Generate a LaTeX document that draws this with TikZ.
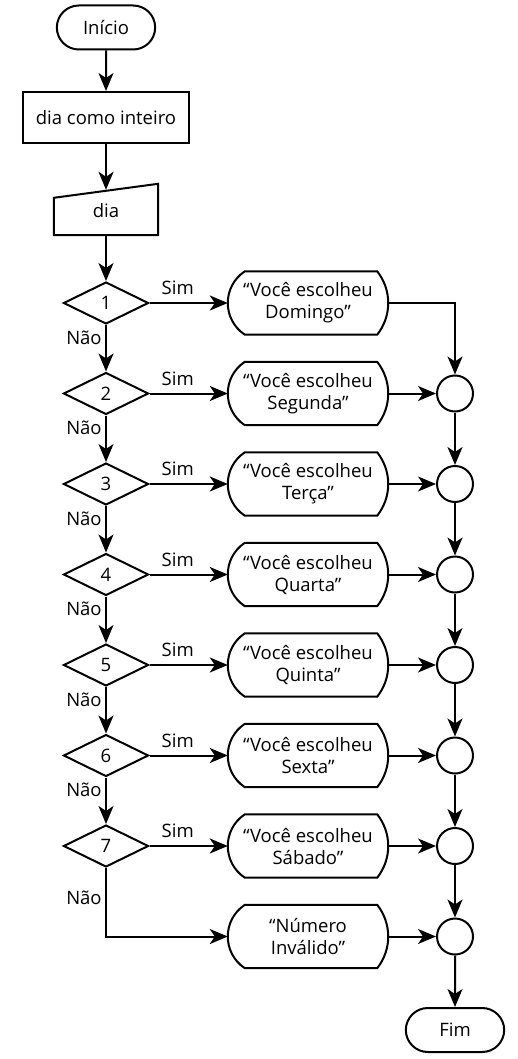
\documentclass[tikz,border=0pt]{standalone}
\usepackage{fontspec}
\setmainfont{Open Sans}
\usetikzlibrary{calc,shapes.geometric,shapes.misc,arrows.meta}

\begin{document}
\begin{tikzpicture}[x=1pt,y=-1pt,
    every node/.style={font=\fontsize{18.5}{22}\selectfont},
    linha/.style={draw,line width=2pt},
    seta/.style={linha,-{Stealth[length=18pt,width=15pt,inset=5pt]}},
    terminal/.style={draw,line width=2pt,rounded rectangle,
      minimum width=105pt,minimum height=44pt},
    decisao/.style={draw,line width=2pt,diamond,inner sep=0pt,
      minimum width=85pt,minimum height=42pt},
    tela/.style={align=center,inner sep=0pt,minimum width=160pt,minimum height=63pt},
    juncao/.style={draw,line width=2pt,circle,inner sep=0pt,minimum size=36pt}]
  \useasboundingbox (0,0) rectangle (517,1059);

  \node[terminal] (inicio) at (106,27.5) {Início};
  \node[draw,line width=2pt,minimum width=166pt,minimum height=51pt] (ret) at (106,117.5) {dia como inteiro};
  \node[minimum width=104pt,minimum height=48pt,inner sep=0pt] (ent) at (106,211) {dia};
  \draw[linha] (ent.south west) -- (ent.south east) -- ([yshift=3pt]ent.north east)
    -- ([yshift=-11pt]ent.north west) -- cycle;

  \draw[seta] (inicio) -- (ret);
  \draw[seta] (ret) -- ($(ent.north)+(0,3)$);

  % uma linha por dia
  \foreach \i/\dia in {1/Domingo,2/Segunda,3/Terça,4/Quarta,5/Quinta,6/Sexta,7/Sábado}{
    \pgfmathsetmacro\y{303+90.5*(\i-1)}
    \node[decisao] (d\i) at (106,\y) {\i};
    \node[tela] (o\i) at (308,\y) {“Você escolheu\\\dia”};
    \draw[seta] (d\i) -- node[above=7pt,pos=0.36,inner sep=0pt] {Sim} (o\i);
  }
  \node[tela] (o8) at (308,936.5) {“Número\\Inválido”};
  \foreach \i in {2,...,8}{
    \pgfmathsetmacro\y{303+90.5*(\i-1)}
    \node[juncao] (c\i) at (455,\y) {};
  }
  \node[terminal] (fim) at (455,1030) {Fim};

  % contorno das telas
  \foreach \t in {o1,o2,o3,o4,o5,o6,o7,o8}
    \draw[linha] ([xshift=17pt]\t.north west) -- ([xshift=-11pt]\t.north east)
      .. controls ([xshift=3.7pt,yshift=13pt]\t.east) and ([xshift=3.7pt,yshift=-13pt]\t.east)
      .. ([xshift=-11pt]\t.south east)
      -- ([xshift=17pt]\t.south west)
      .. controls ([xshift=-5.7pt,yshift=-16.5pt]\t.west) and ([xshift=-5.7pt,yshift=16.5pt]\t.west)
      .. cycle;

  \draw[seta] (ent) -- (d1);
  \foreach \i/\j in {1/2,2/3,3/4,4/5,5/6,6/7}
    \draw[seta] (d\i) -- node[left,pos=0.27] {Não} (d\j);
  \draw[seta] (d7) |- node[left,pos=0.22] {Não} (o8);

  \draw[seta] (o1) -| (c2);
  \foreach \i in {2,...,8}
    \draw[seta] (o\i) -- (c\i);
  \foreach \i/\j in {2/3,3/4,4/5,5/6,6/7,7/8}
    \draw[seta] (c\i) -- (c\j);
  \draw[seta] (c8) -- (fim);
\end{tikzpicture}
\end{document}
